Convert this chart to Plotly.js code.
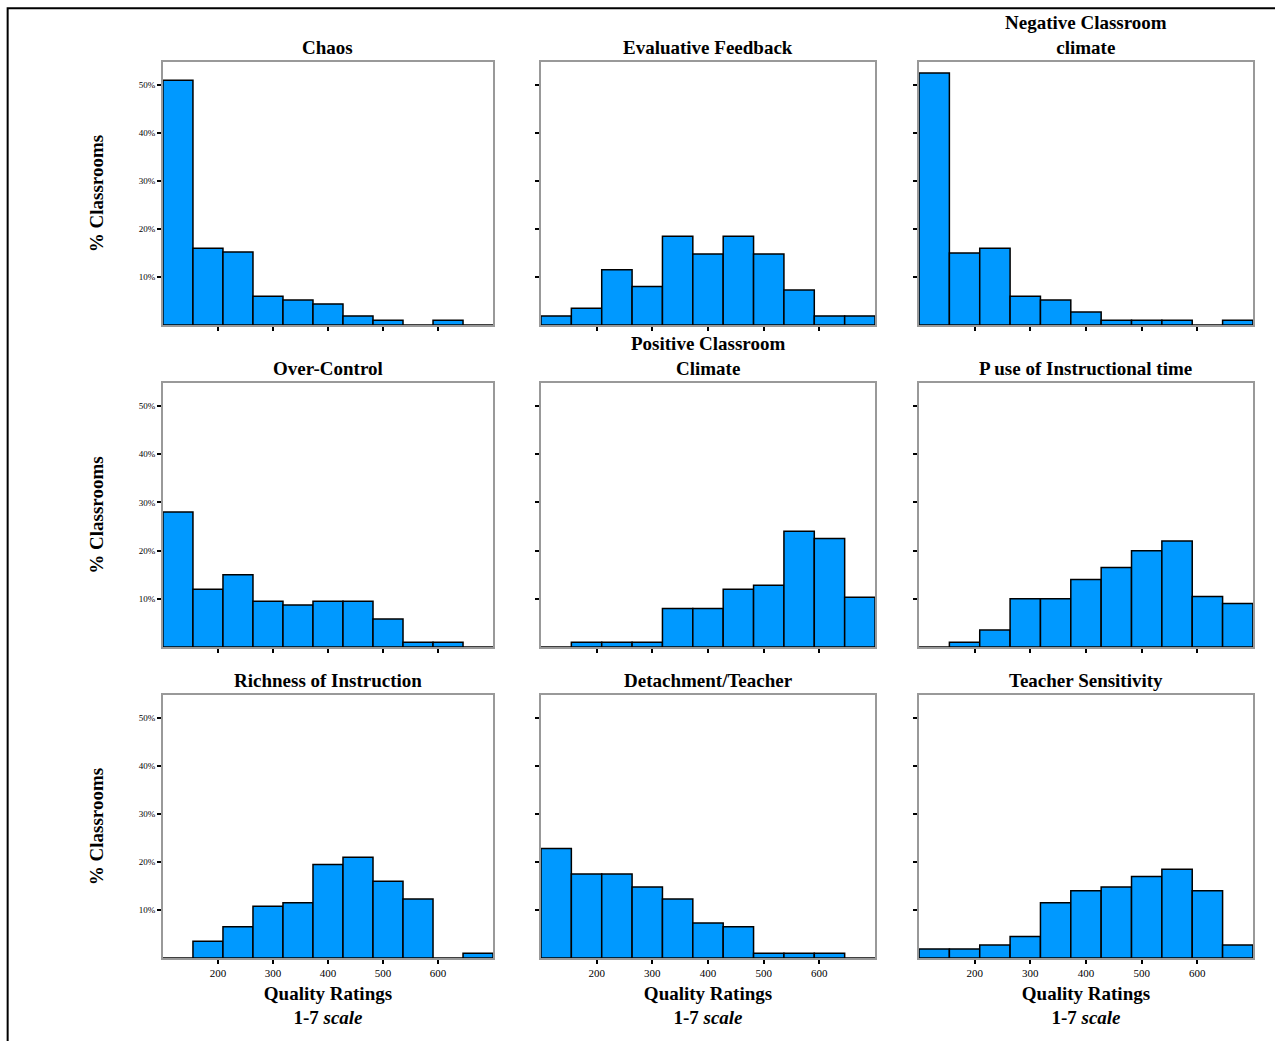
<!DOCTYPE html>
<html>
<head>
<meta charset="utf-8">
<script src="https://cdn.plot.ly/plotly-3.0.1.min.js"></script>
<style>body{margin:0;background:#fff}#chart{width:1275px;height:1041px}</style>
</head>
<body>
<div id="chart"></div>
<script>
// percent of classrooms per bin (11 bins across the 1-7 scale)
const chaos        = [51, 16, 15.2, 6, 5.2, 4.4, 1.9, 1, 0, 1, 0];
const evalFeedback = [1.9, 3.5, 11.5, 8, 18.5, 14.8, 18.5, 14.8, 7.3, 1.9, 1.9];
const negClimate   = [52.5, 15, 16, 6, 5.2, 2.7, 1, 1, 1, 0, 1];
const overControl  = [28, 12, 15, 9.5, 8.7, 9.5, 9.5, 5.8, 1, 1, 0];
const posClimate   = [0, 1, 1, 1, 8, 8, 12, 12.8, 24, 22.5, 10.3];
const pUseTime     = [0, 1, 3.5, 10, 10, 14, 16.5, 20, 22, 10.5, 9];
const richness     = [0, 3.5, 6.5, 10.8, 11.5, 19.5, 21, 16, 12.3, 0, 1];
const detachment   = [22.8, 17.5, 17.5, 14.8, 12.3, 7.3, 6.5, 1, 1, 1, 0];
const sensitivity  = [1.9, 1.9, 2.7, 4.5, 11.5, 14, 14.8, 17, 18.5, 14, 2.7];

const titles = ['Chaos', 'Evaluative Feedback', 'Negative Classroom<br>climate',
  'Over-Control', 'Positive Classroom<br>Climate', 'P use of Instructional time',
  'Richness of Instruction', 'Detachment/Teacher', 'Teacher Sensitivity'];
const series = [chaos, evalFeedback, negClimate, overControl, posClimate, pUseTime,
  richness, detachment, sensitivity];

const yTickVals = [10, 20, 30, 40, 50];
const yTickText = ['10%', '20%', '30%', '40%', '50%'];
const xTickVals = [2, 3, 4, 5, 6];
const xTickText = ['200', '300', '400', '500', '600'];

const binWidth = 6 / 11;
const centers = chaos.map((_, i) => 1 + (i + 0.5) * binWidth);

const colDom = [[0.1278, 0.3867], [0.4243, 0.6863], [0.7208, 0.9827]];
const rowDom = [[0.6878, 0.9404], [0.3785, 0.6321], [0.0797, 0.3324]];
const serif = 'Liberation Serif, Times New Roman, serif';

let data = [];
let layout = {
  width: 1275, height: 1041,
  margin: {l: 0, r: 0, t: 0, b: 0},
  paper_bgcolor: '#fff', plot_bgcolor: '#fff',
  showlegend: false,
  font: {family: serif, color: '#000'},
  annotations: [],
  shapes: [{type: 'rect', xref: 'paper', yref: 'paper', x0: 0.006, x1: 1.02, y0: -0.02, y1: 0.992,
    line: {color: '#000', width: 2}}]
};

series.forEach((vals, k) => {
  const r = Math.floor(k / 3), c = k % 3;
  const n = k + 1;
  const xa = 'x' + (n === 1 ? '' : n), ya = 'y' + (n === 1 ? '' : n);
  data.push({
    type: 'bar', x: centers, y: vals, width: binWidth, xaxis: xa, yaxis: ya,
    marker: {color: '#0099ff', line: {color: '#000', width: 1.5}},
    hoverinfo: 'y'
  });
  layout['xaxis' + (n === 1 ? '' : n)] = {
    domain: colDom[c], anchor: ya, range: [1, 7],
    showgrid: false, zeroline: false, showline: true, mirror: true,
    linecolor: '#999', linewidth: 2,
    ticks: 'outside', ticklen: 4, tickwidth: 2, tickcolor: '#000',
    tickvals: xTickVals, ticktext: xTickText, showticklabels: r === 2,
    tickfont: {family: serif, size: 11, color: '#000'},
    title: r === 2 ? {text: '<b>Quality Ratings<br>1-7 <i>scale</i></b>', font: {family: serif, size: 19}, standoff: 8} : {text: ''}
  };
  layout['yaxis' + (n === 1 ? '' : n)] = {
    domain: rowDom[r], anchor: xa, range: [0, 54.8],
    showgrid: false, zeroline: false, showline: true, mirror: true,
    linecolor: '#999', linewidth: 2,
    ticks: 'outside', ticklen: 4, tickwidth: 2, tickcolor: '#000',
    tickvals: yTickVals, ticktext: yTickText, showticklabels: c === 0,
    tickfont: {family: serif, size: 9, color: '#000'},
    title: c === 0 ? {text: '<b>% Classrooms</b>', font: {family: serif, size: 19}, standoff: 30} : {text: ''}
  };
  layout.annotations.push({
    xref: 'paper', yref: 'paper', x: (colDom[c][0] + colDom[c][1]) / 2, y: rowDom[r][1],
    xanchor: 'center', yanchor: 'bottom', yshift: 2,
    text: '<b>' + titles[k] + '</b>', showarrow: false,
    font: {family: serif, size: 19, color: '#000'}
  });
});

Plotly.newPlot('chart', data, layout, {staticPlot: true});
</script>
</body>
</html>
